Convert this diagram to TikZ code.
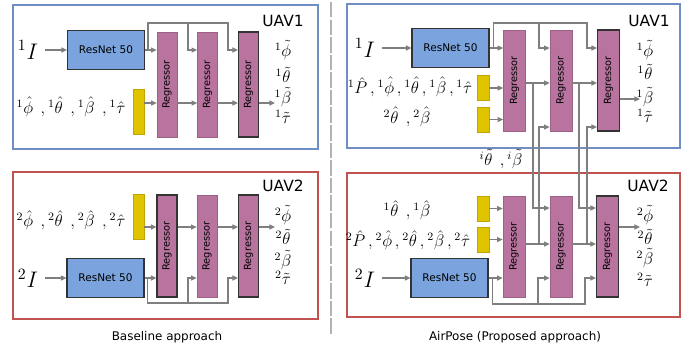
\RequirePackage{fix-cm}
\documentclass[tikz,border=0pt]{standalone}
\usepackage{fontspec}
\setsansfont{DejaVu Sans}
\usetikzlibrary{positioning, arrows.meta}

\definecolor{uavblue}{HTML}{6F8FC4}
\definecolor{uavred}{HTML}{C0524F}
\definecolor{resblue}{HTML}{7BA4DE}
\definecolor{regpink}{HTML}{B8739E}
\definecolor{featyellow}{HTML}{E0C400}
\definecolor{linegray}{HTML}{7F7F7F}

\begin{document}
\begin{tikzpicture}[
    x=0.025cm, y=-0.025cm,
    frame/.style={line width=2pt},
    resnet/.style={draw=black!80, line width=0.8pt, fill=resblue, inner sep=0pt, minimum width=1.925cm, minimum height=0.975cm, font=\sffamily\fontsize{7.5}{9}\selectfont},
    reg/.style={draw=regpink!85!black, line width=0.5pt, fill=regpink, inner sep=0pt, minimum width=0.5cm, minimum height=2.625cm, label={[regtxt]center:Regressor}},
    regdark/.style={reg, draw=black!80, line width=0.8pt},
    regwide/.style={minimum width=0.55cm, minimum height=2.525cm},
    regtxt/.style={rotate=90, font=\sffamily\fontsize{7}{8}\selectfont, inner sep=0pt},
    feat/.style={draw=featyellow!85!black, line width=0.5pt, fill=featyellow, inner sep=0pt, minimum width=0.275cm, minimum height=1.125cm},
    featshort/.style={minimum width=0.3cm, minimum height=0.625cm},
    arr/.style={draw=linegray, line width=0.9pt, -{Triangle[length=4pt,width=3.6pt]}},
    uav/.style={font=\sffamily\fontsize{11}{13}\selectfont},
    caption/.style={font=\sffamily\fontsize{8.5}{10}\selectfont},
    lbl/.style={font=\fontsize{12}{14}\selectfont, inner sep=1pt},
    imglbl/.style={font=\fontsize{16}{18}\selectfont, inner sep=1pt}
  ]
  \useasboundingbox (0,0) rectangle (697,351);

  % ---- Baseline, UAV1 ----
  \draw[frame, draw=uavblue] (13,5) rectangle (318,149);
  \node[uav] (bluav1) at (283,21) {UAV1};
  \node[imglbl] (bl1img) at (28,50) {${}^1I$};
  \node[resnet] (bl1res) at (106,50) {ResNet 50};
  \node[reg] (bl1reg1) at (167,84.5) {};
  \node[reg] (bl1reg2) at (207.5,84.5) {};
  \node[regdark] (bl1reg3) at (248.5,84.5) {};
  \node[feat] (bl1feat) at (138.5,111.5) {};
  \node[lbl] (bl1in) at (71,107) {${}^1\hat{\phi}\;\,,{}^1\hat{\theta}\;\,,{}^1\hat{\beta}\;\,,{}^1\hat{\tau}$};
  \node[lbl] (bl1o1) at (283,50) {${}^1\tilde{\phi}$};
  \node[lbl] (bl1o2) at (283,75) {${}^1\tilde{\theta}$};
  \node[lbl] (bl1o3) at (283,97) {${}^1\tilde{\beta}$};
  \node[lbl] (bl1o4) at (283,117) {${}^1\tilde{\tau}$};
  \coordinate (bl1row) at (0,103);
  \coordinate (bl1out) at (275,103);

  \draw[arr, shorten <=4pt] (bl1img) -- (bl1res);
  \draw[arr] (bl1res.east) -- (bl1res.east -| bl1reg1.west);
  \draw[arr] (bl1res.east) -- ++(3,0) |- (228,23) |- (bl1res.east -| bl1reg3.west);
  \draw[arr] (188,23) |- (bl1res.east -| bl1reg2.west);
  \draw[arr] (bl1feat.east |- bl1row) -- (bl1reg1.west |- bl1row);
  \draw[arr] (bl1reg1.east |- bl1row) -- (bl1reg2.west |- bl1row);
  \draw[arr] (bl1reg2.east |- bl1row) -- (bl1reg3.west |- bl1row);
  \draw[arr] (bl1reg3.east |- bl1row) -- (bl1out);

  % ---- Baseline, UAV2 ----
  \draw[frame, draw=uavred] (13,172) rectangle (318,319);
  \node[uav] (bluav2) at (283,186) {UAV2};
  \node[imglbl] (bl2img) at (28,278) {${}^2I$};
  \node[resnet] (bl2res) at (105.5,278) {ResNet 50};
  \node[regdark, minimum height=2.55cm] (bl2reg1) at (167,246) {};
  \node[reg, minimum height=2.55cm] (bl2reg2) at (207,246) {};
  \node[regdark, minimum height=2.55cm] (bl2reg3) at (248.5,246) {};
  \node[feat] (bl2feat) at (138.5,217) {};
  \node[lbl] (bl2in) at (71,220) {${}^2\hat{\phi}\;\,,{}^2\hat{\theta}\;\,,{}^2\hat{\beta}\;\,,{}^2\hat{\tau}$};
  \node[lbl] (bl2o1) at (283,215) {${}^2\tilde{\phi}$};
  \node[lbl] (bl2o2) at (283,237) {${}^2\tilde{\theta}$};
  \node[lbl] (bl2o3) at (283,260) {${}^2\tilde{\beta}$};
  \node[lbl] (bl2o4) at (283,278) {${}^2\tilde{\tau}$};
  \coordinate (bl2row) at (0,227);
  \coordinate (bl2out) at (275,227);

  \draw[arr, shorten <=4pt] (bl2img) -- (bl2res);
  \draw[arr] (bl2res.east) -- (bl2res.east -| bl2reg1.west);
  \draw[arr] (bl2res.east) -- ++(3,0) |- (228,303) |- (bl2res.east -| bl2reg3.west);
  \draw[arr] (188,303) |- (bl2res.east -| bl2reg2.west);
  \draw[arr] (bl2feat.east |- bl2row) -- (bl2reg1.west |- bl2row);
  \draw[arr] (bl2reg1.east |- bl2row) -- (bl2reg2.west |- bl2row);
  \draw[arr] (bl2reg2.east |- bl2row) -- (bl2reg3.west |- bl2row);
  \draw[arr] (bl2reg3.east |- bl2row) -- (bl2out);

  \node[caption] (blcap) at (167,337) {Baseline approach};

  % divider
  \draw[gray!60, line width=1.4pt, dash pattern=on 11pt off 1.5pt] (331,2) -- (331,335);

  % ---- AirPose, UAV1 ----
  \draw[frame, draw=uavblue] (347,4) rectangle (680,148);
  \node[uav] (apuav1) at (649,21) {UAV1};
  \node[imglbl] (ap1img) at (365,48) {${}^1I$};
  \node[resnet] (ap1res) at (450.5,48) {ResNet 50};
  \node[reg, regwide] (ap1reg1) at (514.5,80.5) {};
  \node[reg, regwide] (ap1reg2) at (561,80.5) {};
  \node[regdark, regwide] (ap1reg3) at (608.5,80.5) {};
  \node[feat, featshort] (ap1feat1) at (483,88) {};
  \node[feat, featshort] (ap1feat2) at (483,119.5) {};
  \node[lbl] (ap1in1) at (410,87) {${}^1\hat{P}\,,{}^1\hat{\phi}\,,{}^1\hat{\theta}\,,{}^1\hat{\beta}\,,{}^1\hat{\tau}$};
  \node[lbl] (ap1in2) at (407,117) {${}^2\hat{\theta}\;\,,{}^2\hat{\beta}$};
  \node[lbl] (ap1o1) at (645,50) {${}^1\tilde{\phi}$};
  \node[lbl] (ap1o2) at (645,72) {${}^1\tilde{\theta}$};
  \node[lbl] (ap1o3) at (645,97) {${}^1\tilde{\beta}$};
  \node[lbl] (ap1o4) at (645,116) {${}^1\tilde{\tau}$};
  \coordinate (ap1row) at (0,83);
  \coordinate (ap1rowlo) at (0,127);
  \coordinate (ap1out) at (640,99);

  % ---- AirPose, UAV2 ----
  \draw[frame, draw=uavred] (347,173) rectangle (680,317);
  \node[uav] (apuav2) at (648,186) {UAV2};
  \node[imglbl] (ap2img) at (365,278) {${}^2I$};
  \node[resnet] (ap2res) at (449.5,278) {ResNet 50};
  \node[reg, regwide] (ap2reg1) at (514,246.5) {};
  \node[reg, regwide] (ap2reg2) at (561,246.5) {};
  \node[regdark, regwide] (ap2reg3) at (607.5,246.5) {};
  \node[feat, featshort] (ap2feat1) at (483,208.5) {};
  \node[feat, featshort] (ap2feat2) at (483,239.5) {};
  \node[lbl] (ap2in1) at (407,210) {${}^1\hat{\theta}\;\,,{}^1\hat{\beta}$};
  \node[lbl] (ap2in2) at (408,240) {${}^2\hat{P}\,,{}^2\hat{\phi}\,,{}^2\hat{\theta}\,,{}^2\hat{\beta}\,,{}^2\hat{\tau}$};
  \node[lbl] (ap2o1) at (645,215) {${}^2\tilde{\phi}$};
  \node[lbl] (ap2o2) at (645,237) {${}^2\tilde{\theta}$};
  \node[lbl] (ap2o3) at (645,258) {${}^2\tilde{\beta}$};
  \node[lbl] (ap2o4) at (645,280) {${}^2\tilde{\tau}$};
  \coordinate (ap2row) at (0,244);
  \coordinate (ap2rowhi) at (0,208);
  \coordinate (ap2out) at (640,227);

  \node[lbl] (apshare) at (501,159) {${}^i\tilde{\theta}\;\,,{}^i\tilde{\beta}$};

  % AirPose connectors
  \draw[arr, shorten <=4pt] (ap1img) -- (ap1res);
  \draw[arr] (ap1res.east) -- (ap1res.east -| ap1reg1.west);
  \draw[arr] (ap1res.east) -- ++(4,0) |- (587,23) |- (ap1res.east -| ap1reg3.west);
  \draw[arr] (539,23) |- (ap1res.east -| ap1reg2.west);
  \draw[arr] (ap1feat1.east) -- (ap1feat1.east -| ap1reg1.west);
  \draw[arr] (ap1feat2.east) -- (ap1feat2.east -| ap1reg1.west);
  \draw[arr] (ap1reg1.east |- ap1row) -- (ap1reg2.west |- ap1row);
  \draw[arr] (ap1reg2.east |- ap1row) -- (ap1reg3.west |- ap1row);
  \draw[arr] (ap1reg3.east |- ap1out) -- (ap1out);

  \draw[arr, shorten <=4pt] (ap2img) -- (ap2res);
  \draw[arr] (ap2res.east) -- (ap2res.east -| ap2reg1.west);
  \draw[arr] (ap2res.east) -- ++(4,0) |- (585,304) |- (ap2res.east -| ap2reg3.west);
  \draw[arr] (538,304) |- (ap2res.east -| ap2reg2.west);
  \draw[arr] (ap2feat1.east) -- (ap2feat1.east -| ap2reg1.west);
  \draw[arr] (ap2feat2.east) -- (ap2feat2.east -| ap2reg1.west);
  \draw[arr] (ap2reg1.east |- ap2row) -- (ap2reg2.west |- ap2row);
  \draw[arr] (ap2reg2.east |- ap2row) -- (ap2reg3.west |- ap2row);
  \draw[arr] (ap2reg3.east |- ap2out) -- (ap2out);

  % exchange between the UAVs
  \draw[arr] (533,83) |- (ap2reg2.west |- ap2rowhi);
  \draw[arr] (579,83) |- (ap2reg3.west |- ap2rowhi);
  \draw[arr] (539,244) |- (ap1reg2.west |- ap1rowlo);
  \draw[arr] (587,244) |- (ap1reg3.west |- ap1rowlo);

  \node[caption] (apcap) at (515,337) {AirPose (Proposed approach)};
\end{tikzpicture}
\end{document}
